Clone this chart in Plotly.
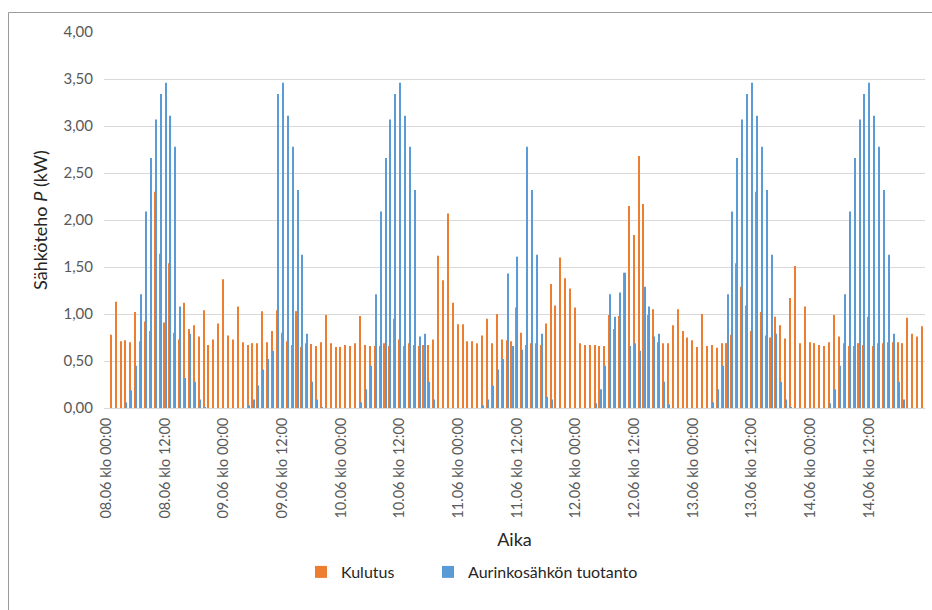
import plotly.graph_objects as go

# Tuntidata 08.06 klo 00:00 ... 14.06 klo 23:00 (168 tuntia), kW
paivat = ["08.06", "09.06", "10.06", "11.06", "12.06", "13.06", "14.06"]

kulutus = [
    # 08.06
    None, 0.78, 1.13, 0.71, 0.72, 0.70, 1.02, 0.71, 0.92, 0.82, 2.30, 1.64,
    0.91, 1.54, 0.80, 0.73, 1.12, 0.84, 0.88, 0.76, 1.04, 0.67, 0.73, 0.90,
    # 09.06
    1.37, 0.77, 0.73, 1.08, 0.70, 0.67, 0.69, 0.69, 1.03, 0.70, 0.82, 1.04,
    0.80, 0.71, 0.67, 1.03, 0.65, 0.69, 0.68, 0.66, 0.70, 0.99, 0.69, 0.65,
    # 10.06
    0.65, 0.67, 0.66, 0.69, 0.98, 0.67, 0.66, 0.66, 0.66, 0.69, 0.66, 0.95,
    0.73, 0.66, 0.69, 0.67, 0.66, 0.67, 0.67, 0.73, 1.62, 1.36, 2.07, 1.12,
    # 11.06
    0.89, 0.89, 0.71, 0.71, 0.69, 0.77, 0.95, 0.69, 1.00, 0.73, 0.72, 0.71,
    1.07, 0.80, 0.67, 0.69, 0.69, 0.67, 0.90, 1.32, 1.09, 1.60, 1.38, 1.27,
    # 12.06
    1.07, 0.69, 0.67, 0.67, 0.67, 0.66, 0.66, 0.99, 0.84, 0.98, 1.44, 2.15,
    1.84, 2.68, 2.17, 0.99, 1.05, 0.70, 0.69, 0.69, 0.88, 1.05, 0.82, 0.75,
    # 13.06
    0.72, 0.65, 1.00, 0.66, 0.67, 0.64, 0.69, 0.69, 0.78, 1.54, 1.29, 1.09,
    0.82, 2.30, 1.02, 0.77, 0.75, 0.97, 0.88, 0.74, 1.17, 1.51, 0.69, 1.08,
    # 14.06
    0.70, 0.69, 0.67, 0.66, 0.70, 0.99, 0.76, 0.69, 0.66, 0.66, 0.69, 0.67,
    0.97, 0.66, 0.69, 0.69, 0.70, 0.70, 0.70, 0.69, 0.96, 0.79, 0.76, 0.87,
]

tuotanto = [
    # 08.06
    0, 0, 0, 0, 0.06, 0.19, 0.45, 1.21, 2.09, 2.66, 3.07, 3.34,
    3.46, 3.11, 2.78, 1.08, 0.32, 0.79, 0.28, 0.09, 0.01, 0, 0, 0,
    # 09.06
    0, 0, 0, 0, 0, 0.03, 0.09, 0.24, 0.41, 0.52, 0.61, 3.34,
    3.46, 3.11, 2.78, 2.32, 1.63, 0.79, 0.28, 0.09, 0.01, 0, 0, 0,
    # 10.06
    0, 0, 0, 0, 0.06, 0.20, 0.45, 1.21, 2.09, 2.66, 3.07, 3.34,
    3.46, 3.11, 2.78, 2.32, 0.76, 0.79, 0.28, 0.09, 0, 0, 0, 0,
    # 11.06
    0, 0, 0, 0, 0, 0.03, 0.09, 0.24, 0.41, 0.52, 1.43, 0.66,
    1.61, 0.62, 2.78, 2.32, 1.63, 0.79, 0.12, 0.09, 0, 0, 0, 0,
    # 12.06
    0, 0, 0, 0, 0.05, 0.20, 0.45, 1.21, 0.97, 1.23, 1.44, 0.66,
    0.69, 0.61, 1.29, 1.08, 0.76, 0.79, 0.28, 0.04, 0, 0, 0, 0,
    # 13.06
    0, 0, 0, 0, 0.06, 0.20, 0.45, 1.21, 2.09, 2.66, 3.07, 3.34,
    3.46, 3.11, 2.78, 2.32, 1.63, 0.79, 0.28, 0.09, 0.01, 0, 0, 0,
    # 14.06
    0, 0, 0, 0, 0.05, 0.20, 0.45, 1.21, 2.09, 2.66, 3.07, 3.34,
    3.46, 3.11, 2.78, 2.32, 1.63, 0.79, 0.28, 0.09, 0, 0, 0, 0,
]

tunnit = list(range(len(kulutus)))
tick_kohdat = list(range(0, len(kulutus), 12))
tick_tekstit = [f"{paivat[h // 24]} klo {h % 24:02d}:00" for h in tick_kohdat]

FONTTI = "Lato"
HARMAA = "#595959"
TUMMA = "#262626"

fig = go.Figure()
fig.add_trace(go.Bar(x=tunnit, y=kulutus, name="Kulutus",
                     marker=dict(color="#ED7D31", line=dict(width=0)),
                     legend="legend", showlegend=True))
fig.add_trace(go.Bar(x=tunnit, y=tuotanto, name="Aurinkosähkön tuotanto",
                     marker=dict(color="#5B9BD5", line=dict(width=0)),
                     legend="legend2", showlegend=True))

L, R, T, B = 104, 7, 32, 202
W, H = 932, 610
pw, ph = W - L - R, H - T - B


def px_x(x):
    return (x - L) / pw


def px_y(y):
    return (H - B - y) / ph


legend_tyyli = dict(orientation="h", xanchor="left", yanchor="middle",
                    y=px_y(572), font=dict(size=16, color=TUMMA),
                    bgcolor="rgba(0,0,0,0)", visible=True)

fig.update_layout(
    width=W, height=H,
    margin=dict(l=L, r=R, t=T, b=B, pad=0),
    paper_bgcolor="white", plot_bgcolor="white",
    separators=", ",
    showlegend=True,
    barmode="group", bargap=0.55, bargroupgap=0,
    font=dict(family=FONTTI, color=HARMAA, size=15),
    xaxis=dict(
        range=[-0.5, len(kulutus) - 0.5],
        tickmode="array", tickvals=tick_kohdat, ticktext=tick_tekstit,
        tickangle=-90, tickfont=dict(size=14.5, color=HARMAA),
        showgrid=False, zeroline=False,
        showline=True, linecolor="#D9D9D9", linewidth=1,
        ticks="", ticklabelstandoff=3,
        title=dict(text="Aika", font=dict(size=18, color=TUMMA), standoff=15),
    ),
    yaxis=dict(
        range=[0, 4], dtick=0.5, tick0=0, tickformat=".2f",
        tickfont=dict(size=15, color=HARMAA),
        showgrid=True, gridcolor="#D9D9D9", gridwidth=1,
        zeroline=False, showline=False, ticks="", ticklabelstandoff=10,
        title=dict(text="Sähköteho <i>P</i> (kW)",
                   font=dict(size=18, color=TUMMA), standoff=11),
    ),
    legend=dict(legend_tyyli, x=px_x(301)),
    legend2=dict(legend_tyyli, x=px_x(428)),
    shapes=[dict(type="rect", xref="paper", yref="paper",
                 x0=px_x(8.5), x1=px_x(960), y0=px_y(12.5), y1=px_y(640),
                 line=dict(color="#9A9A9A", width=1), layer="below")],
)

fig.write_html("out.html")
